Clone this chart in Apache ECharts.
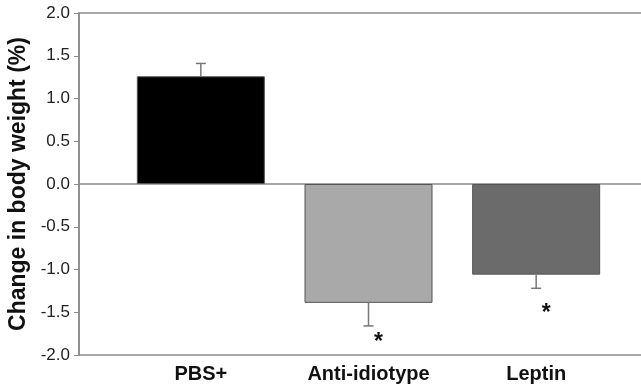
<!DOCTYPE html>
<html>
<head>
<meta charset="utf-8">
<script src="https://cdn.jsdelivr.net/npm/echarts@6/dist/echarts.min.js"></script>
<style>
  html, body { margin: 0; padding: 0; background: #fff; }
  #main { width: 641px; height: 390px; }
</style>
</head>
<body>
<div id="main"></div>
<script>
// 数据
var groups = ['PBS+', 'Anti-idiotype', 'Leptin'];
var meanChange = [1.26, -1.39, -1.06];
var errSize = [0.15, 0.27, 0.16];
var signif = [false, true, true];
var barColors = ['#000000', '#a9a9a9', '#6b6b6b'];
var yTicks = [-2.0, -1.5, -1.0, -0.5, 0.0, 0.5, 1.0, 1.5, 2.0];

var axisGray = '#8a8a8a';
var fontFam = 'Liberation Sans, Arial, sans-serif';
var chart = echarts.init(document.getElementById('main'));

var option = {
  backgroundColor: '#fff',
  animation: false,
  grid: [
    // 外框 + y轴
    { left: 79, right: -2, top: 13, bottom: 35, outerBoundsMode: 'none', containLabel: false,
      show: true, borderColor: axisGray, borderWidth: 1.5, backgroundColor: 'transparent' },
    // 柱子
    { left: 117, right: 21, top: 13, bottom: 35, outerBoundsMode: 'none', containLabel: false }
  ],
  xAxis: [
    {
      gridIndex: 0, type: 'value', min: 0, max: 1,
      axisLine: { show: true, onZero: true, lineStyle: { color: axisGray, width: 1.5 } },
      axisTick: { show: false }, axisLabel: { show: false }, splitLine: { show: false }
    },
    {
      gridIndex: 1, type: 'category', data: groups,
      axisLine: { show: false }, axisTick: { show: false },
      axisLabel: {
        margin: 9, color: '#111', fontSize: 20, fontWeight: 'bold', fontFamily: fontFam
      }
    }
  ],
  yAxis: [
    {
      gridIndex: 0, type: 'value', min: yTicks[0], max: yTicks[yTicks.length - 1], interval: 0.5,
      name: 'Change in body weight (%)', nameLocation: 'middle', nameGap: 46,
      nameTextStyle: { fontSize: 23, fontWeight: 'bold', color: '#111', fontFamily: fontFam },
      axisLine: { show: true, lineStyle: { color: axisGray, width: 1.5 } },
      axisTick: { show: true, inside: false, length: 5, lineStyle: { color: axisGray } },
      axisLabel: {
        margin: 9, color: '#222', fontSize: 17, fontFamily: fontFam,
        formatter: function (v) { return v.toFixed(1); }
      },
      splitLine: { show: false }
    },
    {
      gridIndex: 1, type: 'value', min: yTicks[0], max: yTicks[yTicks.length - 1],
      show: false, splitLine: { show: false }
    }
  ],
  series: [
    {
      type: 'bar', xAxisIndex: 1, yAxisIndex: 1, barWidth: 128,
      data: meanChange.map(function (v, i) {
        return { value: v, itemStyle: { color: barColors[i], borderColor: '#555', borderWidth: 1 } };
      }),
      z: 2
    },
    {
      // 误差线 (单向) 和显著性星号
      type: 'custom', xAxisIndex: 1, yAxisIndex: 1, z: 3,
      data: meanChange.map(function (v, i) { return [i, v, errSize[i], signif[i] ? 1 : 0]; }),
      renderItem: function (params, api) {
        var i = api.value(0), m = api.value(1), e = api.value(2);
        var dir = m >= 0 ? 1 : -1;
        var p0 = api.coord([i, m]);
        var p1 = api.coord([i, m + dir * e]);
        var half = 5;
        var kids = [
          { type: 'line', shape: { x1: p0[0], y1: p0[1], x2: p1[0], y2: p1[1] }, style: { stroke: '#777', lineWidth: 1.5 } },
          { type: 'line', shape: { x1: p1[0] - half, y1: p1[1], x2: p1[0] + half, y2: p1[1] }, style: { stroke: '#777', lineWidth: 1.5 } }
        ];
        if (api.value(3)) {
          var ps = api.coord([i, m + dir * 0.39]);
          kids.push({
            type: 'text', x: ps[0] + 10, y: ps[1] + 6,
            style: { text: '*', fill: '#111', font: 'bold 23px ' + fontFam, align: 'center', verticalAlign: 'middle' }
          });
        }
        return { type: 'group', children: kids };
      }
    }
  ]
};

chart.setOption(option);
</script>
</body>
</html>
